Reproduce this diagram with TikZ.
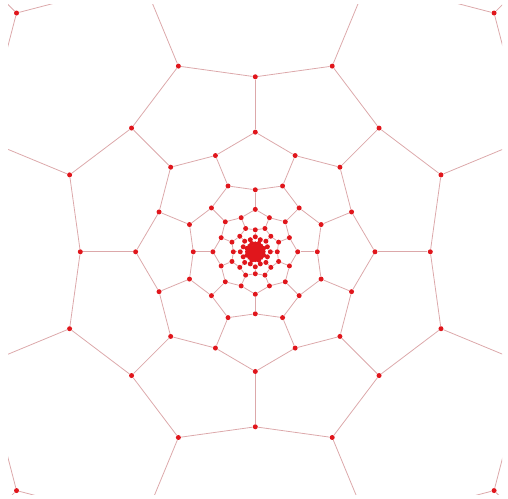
\documentclass[tikz,border=0pt]{standalone}
\usetikzlibrary{calc}

\definecolor{dotred}{RGB}{224,22,28}
\definecolor{linepink}{RGB}{220,168,170}

\pgfdeclarelayer{background}
\pgfsetlayers{background,main}

\begin{document}
\begin{tikzpicture}[
    x=0.02cm, y=-0.02cm,
    vertex/.style={circle, fill=dotred, inner sep=0pt, minimum size=0.1cm},
    edge/.style={draw=linepink, line width=0.45pt},
]

% --- Frame ---
\useasboundingbox (0,0) rectangle (508,498);
\coordinate (c) at (255.3,251.8);

\begin{scope}
\clip (8,4) rectangle (502,494);

% --- Rings of vertices (each ring scaled by 1.68, turned by 22.5 deg) ---
\foreach \k in {0,...,11} {
  \foreach \j in {0,...,15} {
    \pgfmathtruncatemacro{\inner}{mod(\j+\k,2)}
    \pgfmathsetmacro{\rad}{(\inner==1 ? 175 : 201)*pow(1.68,\k-9)}
    \node[vertex] (v\k-\j) at ($(c)+(\j*22.5:\rad)$) {};
  }
}
\end{scope}

% --- Edges: round each ring, and inward from the inner vertices ---
\begin{pgfonlayer}{background}
\begin{scope}
\clip (8,4) rectangle (502,494);
\foreach \k in {0,...,11} {
  \foreach \j in {0,...,15} {
    \pgfmathtruncatemacro{\jn}{mod(\j+1,16)}
    \pgfmathtruncatemacro{\inner}{mod(\j+\k,2)}
    \pgfmathtruncatemacro{\kk}{\k-1}
    \draw[edge] (v\k-\j) -- (v\k-\jn);
    \ifnum\inner=1 \ifnum\k>0
      \draw[edge] (v\k-\j) -- (v\kk-\j);
    \fi\fi
  }
}
\end{scope}
\end{pgfonlayer}

\end{tikzpicture}
\end{document}
